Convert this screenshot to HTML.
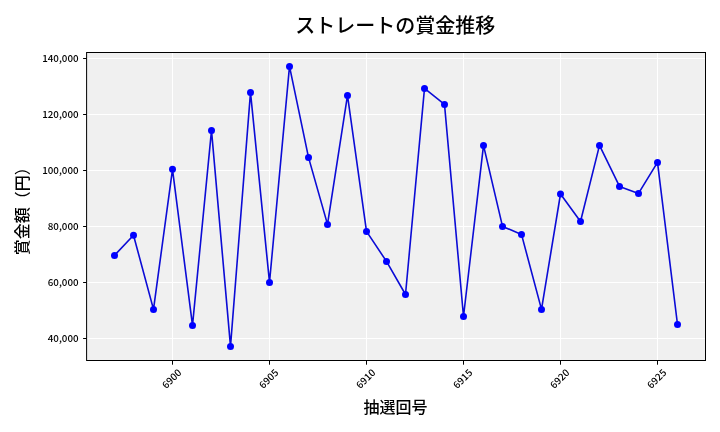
<!DOCTYPE html>
<html><head><meta charset="utf-8"><title>ストレートの賞金推移</title>
<style>html,body{margin:0;padding:0;background:#fff;width:720px;height:432px;overflow:hidden}svg{display:block;will-change:transform}</style>
</head><body>
<svg width="720" height="432" viewBox="0 0 720 432">
<rect x="86.6" y="52.5" width="618.9" height="308.0" fill="#f0f0f0"/>
<line x1="86.6" x2="705.5" y1="338.50" y2="338.50" stroke="#fff" stroke-width="1"/>
<line x1="86.6" x2="705.5" y1="282.50" y2="282.50" stroke="#fff" stroke-width="1"/>
<line x1="86.6" x2="705.5" y1="226.50" y2="226.50" stroke="#fff" stroke-width="1"/>
<line x1="86.6" x2="705.5" y1="170.50" y2="170.50" stroke="#fff" stroke-width="1"/>
<line x1="86.6" x2="705.5" y1="114.50" y2="114.50" stroke="#fff" stroke-width="1"/>
<line x1="86.6" x2="705.5" y1="58.50" y2="58.50" stroke="#fff" stroke-width="1"/>
<line x1="172.50" x2="172.50" y1="52.5" y2="360.5" stroke="#fff" stroke-width="1"/>
<line x1="269.50" x2="269.50" y1="52.5" y2="360.5" stroke="#fff" stroke-width="1"/>
<line x1="366.50" x2="366.50" y1="52.5" y2="360.5" stroke="#fff" stroke-width="1"/>
<line x1="463.50" x2="463.50" y1="52.5" y2="360.5" stroke="#fff" stroke-width="1"/>
<line x1="560.50" x2="560.50" y1="52.5" y2="360.5" stroke="#fff" stroke-width="1"/>
<line x1="657.50" x2="657.50" y1="52.5" y2="360.5" stroke="#fff" stroke-width="1"/>
<polyline points="114.5,255.4 133.5,235.2 153.5,309.4 172.5,169.3 192.5,325.4 211.5,130.4 230.5,346.4 250.5,92.4 269.5,282.4 289.5,66.4 308.5,157.4 327.5,224.4 347.5,95.4 366.5,231.4 386.5,261.4 405.5,294.5 424.5,88.4 444.5,104.4 463.5,316.5 483.5,145.4 502.5,226.4 521.5,234.4 541.5,309.4 560.5,194.0 580.5,221.5 599.5,145.4 619.5,186.4 638.5,193.4 657.5,162.4 677.5,324.5" fill="none" stroke="#0b0bd6" stroke-width="1.6" stroke-linejoin="round"/>
<circle cx="114.5" cy="255.4" r="3.5" fill="#0000ff"/>
<circle cx="133.5" cy="235.2" r="3.5" fill="#0000ff"/>
<circle cx="153.5" cy="309.4" r="3.5" fill="#0000ff"/>
<circle cx="172.5" cy="169.3" r="3.5" fill="#0000ff"/>
<circle cx="192.5" cy="325.4" r="3.5" fill="#0000ff"/>
<circle cx="211.5" cy="130.4" r="3.5" fill="#0000ff"/>
<circle cx="230.5" cy="346.4" r="3.5" fill="#0000ff"/>
<circle cx="250.5" cy="92.4" r="3.5" fill="#0000ff"/>
<circle cx="269.5" cy="282.4" r="3.5" fill="#0000ff"/>
<circle cx="289.5" cy="66.4" r="3.5" fill="#0000ff"/>
<circle cx="308.5" cy="157.4" r="3.5" fill="#0000ff"/>
<circle cx="327.5" cy="224.4" r="3.5" fill="#0000ff"/>
<circle cx="347.5" cy="95.4" r="3.5" fill="#0000ff"/>
<circle cx="366.5" cy="231.4" r="3.5" fill="#0000ff"/>
<circle cx="386.5" cy="261.4" r="3.5" fill="#0000ff"/>
<circle cx="405.5" cy="294.5" r="3.5" fill="#0000ff"/>
<circle cx="424.5" cy="88.4" r="3.5" fill="#0000ff"/>
<circle cx="444.5" cy="104.4" r="3.5" fill="#0000ff"/>
<circle cx="463.5" cy="316.5" r="3.5" fill="#0000ff"/>
<circle cx="483.5" cy="145.4" r="3.5" fill="#0000ff"/>
<circle cx="502.5" cy="226.4" r="3.5" fill="#0000ff"/>
<circle cx="521.5" cy="234.4" r="3.5" fill="#0000ff"/>
<circle cx="541.5" cy="309.4" r="3.5" fill="#0000ff"/>
<circle cx="560.5" cy="194.0" r="3.5" fill="#0000ff"/>
<circle cx="580.5" cy="221.5" r="3.5" fill="#0000ff"/>
<circle cx="599.5" cy="145.4" r="3.5" fill="#0000ff"/>
<circle cx="619.5" cy="186.4" r="3.5" fill="#0000ff"/>
<circle cx="638.5" cy="193.4" r="3.5" fill="#0000ff"/>
<circle cx="657.5" cy="162.4" r="3.5" fill="#0000ff"/>
<circle cx="677.5" cy="324.5" r="3.5" fill="#0000ff"/>
<rect x="86.6" y="52.5" width="618.9" height="308.0" fill="none" stroke="#000" stroke-width="1"/>
<line x1="83.1" x2="86.6" y1="338.50" y2="338.50" stroke="#000" stroke-width="1"/>
<text x="78.6" y="341.60" text-anchor="end" font-size="9.8" font-family="'Noto Sans CJK JP',sans-serif" font-weight="500">40,000</text>
<line x1="83.1" x2="86.6" y1="282.50" y2="282.50" stroke="#000" stroke-width="1"/>
<text x="78.6" y="285.60" text-anchor="end" font-size="9.8" font-family="'Noto Sans CJK JP',sans-serif" font-weight="500">60,000</text>
<line x1="83.1" x2="86.6" y1="226.50" y2="226.50" stroke="#000" stroke-width="1"/>
<text x="78.6" y="229.60" text-anchor="end" font-size="9.8" font-family="'Noto Sans CJK JP',sans-serif" font-weight="500">80,000</text>
<line x1="83.1" x2="86.6" y1="170.50" y2="170.50" stroke="#000" stroke-width="1"/>
<text x="78.6" y="173.60" text-anchor="end" font-size="9.8" font-family="'Noto Sans CJK JP',sans-serif" font-weight="500">100,000</text>
<line x1="83.1" x2="86.6" y1="114.50" y2="114.50" stroke="#000" stroke-width="1"/>
<text x="78.6" y="117.60" text-anchor="end" font-size="9.8" font-family="'Noto Sans CJK JP',sans-serif" font-weight="500">120,000</text>
<line x1="83.1" x2="86.6" y1="58.50" y2="58.50" stroke="#000" stroke-width="1"/>
<text x="78.6" y="61.60" text-anchor="end" font-size="9.8" font-family="'Noto Sans CJK JP',sans-serif" font-weight="500">140,000</text>
<line x1="172.50" x2="172.50" y1="360.5" y2="364.7" stroke="#000" stroke-width="1"/>
<text transform="translate(174.20,381.3) rotate(-45)" text-anchor="middle" font-size="9.8" font-family="'Noto Sans CJK JP',sans-serif" font-weight="500">6900</text>
<line x1="269.50" x2="269.50" y1="360.5" y2="364.7" stroke="#000" stroke-width="1"/>
<text transform="translate(271.20,381.3) rotate(-45)" text-anchor="middle" font-size="9.8" font-family="'Noto Sans CJK JP',sans-serif" font-weight="500">6905</text>
<line x1="366.50" x2="366.50" y1="360.5" y2="364.7" stroke="#000" stroke-width="1"/>
<text transform="translate(368.20,381.3) rotate(-45)" text-anchor="middle" font-size="9.8" font-family="'Noto Sans CJK JP',sans-serif" font-weight="500">6910</text>
<line x1="463.50" x2="463.50" y1="360.5" y2="364.7" stroke="#000" stroke-width="1"/>
<text transform="translate(465.20,381.3) rotate(-45)" text-anchor="middle" font-size="9.8" font-family="'Noto Sans CJK JP',sans-serif" font-weight="500">6915</text>
<line x1="560.50" x2="560.50" y1="360.5" y2="364.7" stroke="#000" stroke-width="1"/>
<text transform="translate(562.20,381.3) rotate(-45)" text-anchor="middle" font-size="9.8" font-family="'Noto Sans CJK JP',sans-serif" font-weight="500">6920</text>
<line x1="657.50" x2="657.50" y1="360.5" y2="364.7" stroke="#000" stroke-width="1"/>
<text transform="translate(659.20,381.3) rotate(-45)" text-anchor="middle" font-size="9.8" font-family="'Noto Sans CJK JP',sans-serif" font-weight="500">6925</text>
<text x="395.2" y="32.5" text-anchor="middle" font-size="20" font-family="'Noto Sans CJK JP',sans-serif" font-weight="500">ストレートの賞金推移</text>
<text x="395.5" y="413" text-anchor="middle" font-size="16" font-family="'Noto Sans CJK JP',sans-serif" font-weight="500">抽選回号</text>
<text transform="translate(27.7,207.2) rotate(-90)" text-anchor="middle" font-size="16" font-family="'Noto Sans CJK JP',sans-serif" font-weight="500">賞金額（円）</text>
</svg>
</body></html>
